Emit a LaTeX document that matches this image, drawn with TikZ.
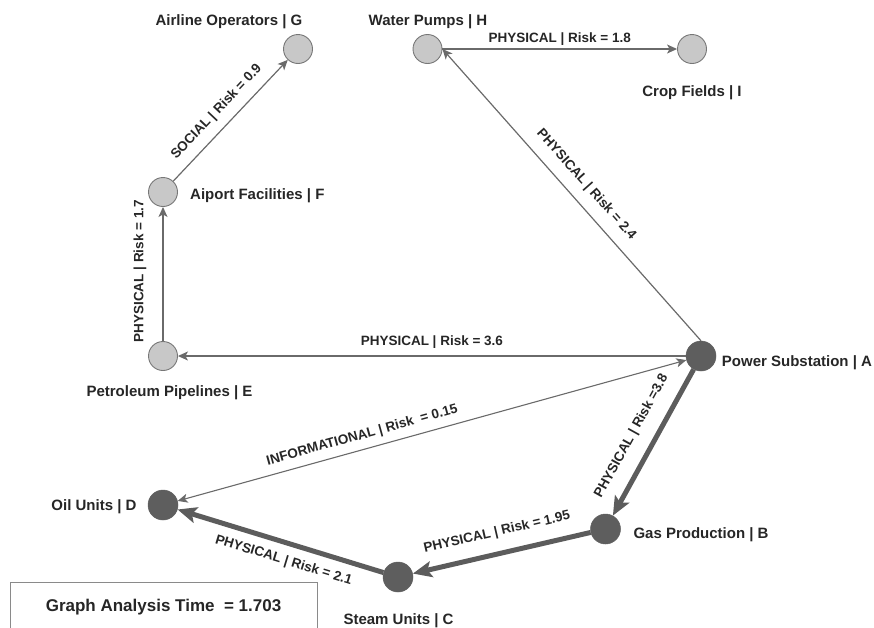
\documentclass[tikz,border=0pt]{standalone}
\usepackage{fontspec}
\setmainfont{Liberation Sans}
\usetikzlibrary{arrows.meta}
\definecolor{lightnode}{HTML}{C8C8C8}
\definecolor{nodeedge}{HTML}{777777}
\definecolor{darknode}{HTML}{5E5E5E}
\definecolor{thinline}{HTML}{6A6A6A}
\definecolor{thickline}{HTML}{5C5C5C}
\definecolor{txt}{HTML}{262626}
\definecolor{boxline}{HTML}{8A8A8A}
\begin{document}
\begin{tikzpicture}[x=1pt,y=-1pt,
  lnode/.style={circle,fill=lightnode,draw=nodeedge,line width=0.9pt,minimum size=29pt,inner sep=0pt},
  dnode/.style={circle,fill=darknode,draw=darknode,line width=0.5pt,minimum size=30pt,inner sep=0pt},
  nlabel/.style={font=\fontsize{15}{18}\selectfont\bfseries,text=txt,inner sep=0pt},
  elabel/.style={font=\fontsize{13.5}{16}\selectfont\bfseries,text=txt,inner xsep=0pt,sloped},
  thinarrow/.style={draw=thinline,line width=1.2pt,-{Stealth[length=10pt,width=9pt,inset=2.5pt]}},
  thinboth/.style={draw=thinline,line width=1.1pt,{Stealth[length=10pt,width=9pt,inset=2.5pt]}-{Stealth[length=10pt,width=9pt,inset=2.5pt]}},
  thickarrow/.style={draw=thickline,line width=5pt,-{Stealth[length=19pt,width=16pt,inset=4pt]}},
]
\useasboundingbox (0,0) rectangle (874,627);

% nodes
\node[lnode] (G) at (298,49) {};
\node[lnode] (H) at (427.5,49) {};
\node[lnode] (I) at (692,49) {};
\node[lnode] (F) at (163,192) {};
\node[lnode] (E) at (163,356) {};
\node[dnode] (A) at (701,356) {};
\node[dnode] (B) at (605.5,529) {};
\node[dnode] (C) at (398,577) {};
\node[dnode] (D) at (163,505) {};

% node labels
\node[nlabel,anchor=base] (lG) at (229,25.7) {Airline Operators | G};
\node[nlabel,anchor=base] (lH) at (428,25.7) {Water Pumps | H};
\node[nlabel,anchor=base] (lI) at (692,96.7) {Crop Fields | I};
\node[nlabel,anchor=base west] (lF) at (190,199) {Aiport Facilities | F};
\node[nlabel,anchor=base] (lE) at (169.5,396) {Petroleum Pipelines | E};
\node[nlabel,anchor=base west] (lA) at (721.7,366.7) {Power Substation | A};
\node[nlabel,anchor=base west] (lB) at (633.3,538.3) {Gas Production | B};
\node[nlabel,anchor=base west] (lC) at (343.3,624) {Steam Units | C};
\node[nlabel,anchor=base east] (lD) at (136.7,510) {Oil Units | D};

% edges
\draw[thinarrow] (F) -- node[elabel,pos=0.48,above,inner ysep=8.8pt]{SOCIAL | Risk = 0.9} (G);
\draw[thinarrow] (E) -- node[elabel,pos=0.52,above,inner ysep=16pt]{PHYSICAL | Risk = 1.7} (F);
\draw[thinarrow] (A) -- node[elabel,pos=0.5,above,inner ysep=6.9pt]{PHYSICAL | Risk = 3.6} (E);
\draw[thinarrow] (H) -- node[elabel,pos=0.5,above,inner ysep=2.9pt]{PHYSICAL | Risk = 1.8} (I);
\draw[thinarrow] (A.north) -- node[elabel,pos=0.495,above,inner ysep=10.6pt]{PHYSICAL | Risk = 2.4} (H.east);
\draw[thinboth] (A) -- node[elabel,pos=0.63,above,inner ysep=6.8pt]{INFORMATIONAL | Risk~~= 0.15} (D);
\draw[thickarrow] (A) -- node[elabel,pos=0.53,above,inner ysep=13pt]{PHYSICAL | Risk =3.8} (B);
\draw[thickarrow] (B) -- node[elabel,pos=0.5,above,inner ysep=12pt]{PHYSICAL | Risk = 1.95} (C);
\draw[thickarrow] (C) -- node[elabel,pos=0.46,below,inner ysep=9pt]{PHYSICAL | Risk = 2.1} (D);

% analysis box
\begin{scope}
\clip (0,0) rectangle (874,627);
\node[draw=boxline,line width=0.9pt,minimum width=307pt,inner xsep=0pt,inner ysep=16pt,text depth=30pt,anchor=base,font=\fontsize{17}{20}\selectfont\bfseries,text=txt] (T) at (163.5,611) {Graph Analysis Time~~= 1.703};
\end{scope}
\end{tikzpicture}
\end{document}
